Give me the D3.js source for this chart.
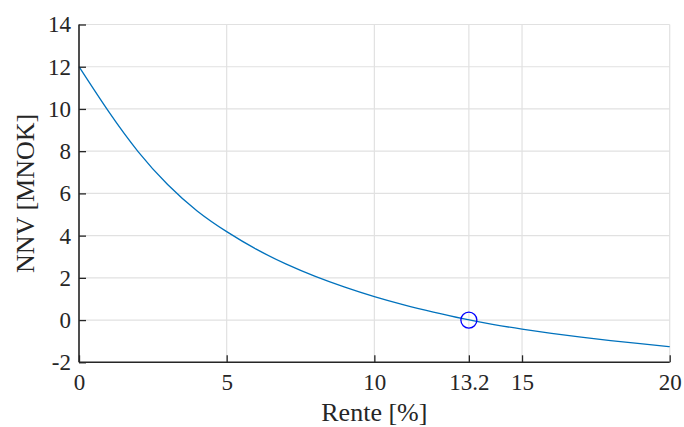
<!DOCTYPE html>
<html>
<head>
<meta charset="utf-8">
<script src="https://cdn.jsdelivr.net/npm/d3@7"></script>
<style>
  html, body { margin: 0; padding: 0; background: #fff; }
  svg { display: block; }
</style>
</head>
<body>
<svg id="chart" width="684" height="427"></svg>
<script>
// Data
const rates = [0, 1, 2, 3, 4, 5, 6, 7, 8, 9, 10, 11, 12, 13, 14, 15, 16, 17, 18, 19, 20];
const npv   = [12.0, 9.88, 7.98, 6.42, 5.17, 4.19, 3.36, 2.66, 2.07, 1.56, 1.11, 0.72, 0.38, 0.07, -0.2, -0.43, -0.63, -0.81, -0.97, -1.12, -1.26];
const irrPoint = { rate: 13.2, npv: 0 };
const xTicks = [0, 5, 10, 13.2, 15, 20];
const yTicks = [-2, 0, 2, 4, 6, 8, 10, 12, 14];
const xLabel = "Rente [%]";
const yLabel = "NNV [MNOK]";

const FONT = '"Liberation Serif", "Times New Roman", serif';
const svg = d3.select("#chart").attr("font-family", FONT);
const pLeft = 79, pRight = 669.7, pTop = 24.5, pBottom = 362.3;

const x = d3.scaleLinear().domain([0, 20]).range([pLeft, pRight]);
const y = d3.scaleLinear().domain([-2, 14]).range([pBottom, pTop]);

// grid
const grid = svg.append("g");
grid.selectAll("line.v").data(xTicks).enter().append("line")
  .attr("x1", d => x(d)).attr("x2", d => x(d))
  .attr("y1", pTop).attr("y2", pBottom)
  .attr("stroke", "#e1e1e1").attr("stroke-width", 1.2);
grid.selectAll("line.h").data(yTicks).enter().append("line")
  .attr("x1", pLeft).attr("x2", pRight)
  .attr("y1", d => y(d)).attr("y2", d => y(d))
  .attr("stroke", "#e1e1e1").attr("stroke-width", 1.2);

// curve
const line = d3.line()
  .x((d, i) => x(rates[i]))
  .y(d => y(d))
  .curve(d3.curveNatural);
svg.append("path").datum(npv)
  .attr("d", line)
  .attr("fill", "none")
  .attr("stroke", "#0072BD")
  .attr("stroke-width", 1.3);

// IRR marker
svg.append("circle")
  .attr("cx", x(irrPoint.rate)).attr("cy", y(irrPoint.npv)).attr("r", 8)
  .attr("fill", "none").attr("stroke", "#0000FF").attr("stroke-width", 1.3);

// axes
const xAxis = d3.axisBottom(x).tickValues(xTicks).tickSize(-7).tickPadding(11)
  .tickFormat(d => String(d));
const yAxis = d3.axisLeft(y).tickValues(yTicks).tickSize(-7).tickPadding(8)
  .tickFormat(d => String(d));

const gx = svg.append("g").attr("transform", `translate(0,${pBottom})`).call(xAxis);
const gy = svg.append("g").attr("transform", `translate(${pLeft},0)`).call(yAxis);

gx.select(".domain").attr("d", `M${pLeft},0H${pRight}`);
gy.select(".domain").attr("d", `M0,${pBottom}V${pTop}`);
[gx, gy].forEach(g => {
  g.attr("font-family", FONT).attr("font-size", 23);
  g.select(".domain").attr("stroke", "#262626").attr("stroke-width", 1.6);
  g.selectAll(".tick line").attr("stroke", "#262626").attr("stroke-width", 1.3);
  g.selectAll(".tick text").attr("fill", "#262626").attr("font-family", FONT);
});

// axis labels
svg.append("text")
  .attr("x", (pLeft + pRight) / 2).attr("y", 421)
  .attr("text-anchor", "middle").attr("font-size", 26)
  .attr("font-family", FONT).attr("fill", "#262626")
  .text(xLabel);
svg.append("text")
  .attr("transform", `translate(34,${(pTop + pBottom) / 2}) rotate(-90)`)
  .attr("text-anchor", "middle").attr("font-size", 26)
  .attr("font-family", FONT).attr("fill", "#262626")
  .text(yLabel);
</script>
</body>
</html>
